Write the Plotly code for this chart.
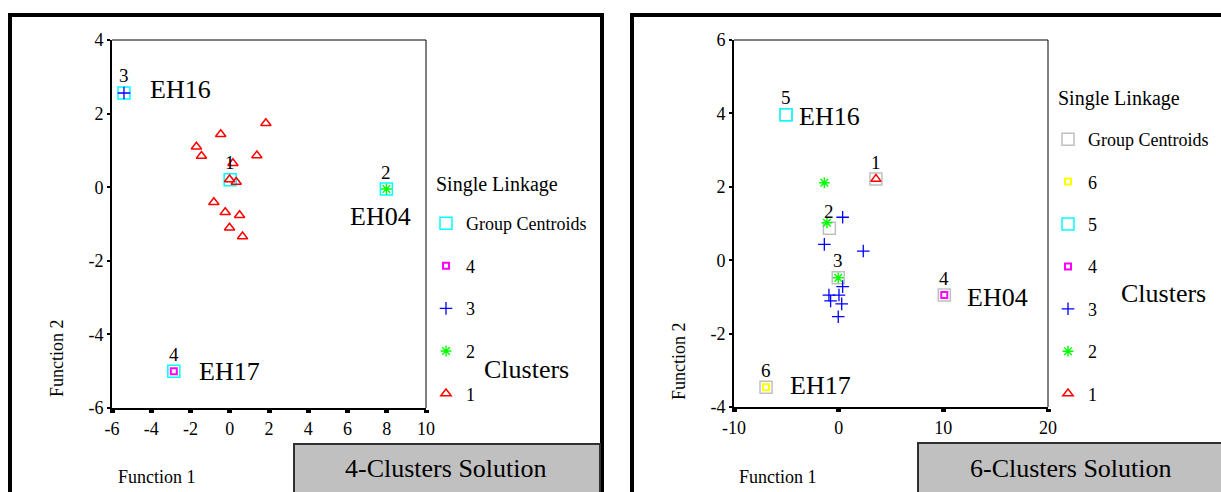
import plotly.graph_objects as go

W, H = 1221, 492

# ---------------- 4-Clusters Solution (left) ----------------
l_c1_x = [1.84, -0.46, -1.70, -1.44, 1.38, 0.16, -0.01, 0.33, -0.81, -0.23, 0.50, -0.01, 0.65]
l_c1_y = [1.74, 1.44, 1.10, 0.85, 0.86, 0.65, 0.21, 0.14, -0.41, -0.68, -0.76, -1.10, -1.34]
l_c2_x = [7.98]
l_c2_y = [-0.05]
l_c3_x = [-5.39]
l_c3_y = [2.56]
l_c4_x = [-2.85]
l_c4_y = [-5.00]
l_cent_x = [0.02, 7.98, -5.39, -2.85]
l_cent_y = [0.20, -0.05, 2.56, -5.00]
l_cent_lbl = ["1", "2", "3", "4"]
l_names = ["EH16", "EH04", "EH17"]
l_name_of = [2, 1, 3]          # centroid index that each name belongs to
l_xticks = [-6, -4, -2, 0, 2, 4, 6, 8, 10]
l_yticks = [-6, -4, -2, 0, 2, 4]

# ---------------- 6-Clusters Solution (right) ----------------
r_c1_x = [3.56]
r_c1_y = [2.21]
r_c2_x = [-1.37, -1.12, -0.04]
r_c2_y = [2.11, 1.02, -0.48]
r_c3_x = [0.38, -1.37, 2.35, 0.38, -0.93, 0.03, -0.77, 0.29, -0.04]
r_c3_y = [1.17, 0.43, 0.25, -0.72, -0.95, -0.95, -1.11, -1.19, -1.54]
r_c4_x = [10.09]
r_c4_y = [-0.95]
r_c5_x = [-5.03]
r_c5_y = [3.96]
r_c6_x = [-6.94]
r_c6_y = [-3.46]
r_cent_x = [3.56, -0.89, -0.04, 10.09, -5.03, -6.94]
r_cent_y = [2.21, 0.87, -0.48, -0.95, 3.96, -3.46]
r_cent_lbl = ["1", "2", "3", "4", "5", "6"]
r_names = ["EH16", "EH04", "EH17"]
r_name_of = [4, 3, 5]
r_xticks = [-10, 0, 10, 20]
r_yticks = [-4, -2, 0, 2, 4, 6]

FONT = "Liberation Serif, Times New Roman, serif"
RED, GREEN, BLUE, MAG, CYAN, YEL, GREY = "#ff0000", "#00ff00", "#0000ff", "#ff00ff", "#00ffff", "#ffff00", "#c0c0c0"


def px(x):
    return x / W


def py(y):
    return 1 - y / H


def tick_text(vals):
    return [str(v) for v in vals]


fig = go.Figure()

STY = {
    "tri": dict(symbol="triangle-up-open", size=9, color=RED, line=dict(color=RED, width=1.5)),
    "ast": dict(symbol="asterisk-open", size=9, color=GREEN, line=dict(color=GREEN, width=1.4)),
    "plus": dict(symbol="cross-thin-open", size=9, color=BLUE, line=dict(color=BLUE, width=1.3)),
    "mag": dict(symbol="square-open", size=6, color=MAG, line=dict(color=MAG, width=2)),
    "yel": dict(symbol="square-open", size=6, color=YEL, line=dict(color=YEL, width=2)),
    "cyan": dict(symbol="square-open", size=12, color=CYAN, line=dict(color=CYAN, width=1.5)),
    "grey": dict(symbol="square-open", size=12, color=GREY, line=dict(color=GREY, width=1.5)),
}


def add(xs, ys, name, sty, xa, ya, leg, grp):
    fig.add_trace(go.Scatter(x=xs, y=ys, mode="markers", name=name, marker=STY[sty],
                             xaxis=xa, yaxis=ya, legend=leg, legendgroup=grp,
                             hoverinfo="skip"))


# left panel (centroids first, drawn underneath)
add(l_cent_x, l_cent_y, "Group Centroids", "cyan", "x", "y", "legend", "Lc")
add(l_c4_x, l_c4_y, "4", "mag", "x", "y", "legend", "L4")
add(l_c3_x, l_c3_y, "3", "plus", "x", "y", "legend", "L3")
add(l_c2_x, l_c2_y, "2", "ast", "x", "y", "legend", "L2")
add(l_c1_x, l_c1_y, "1", "tri", "x", "y", "legend", "L1")

# right panel
add(r_cent_x, r_cent_y, "Group Centroids", "grey", "x2", "y2", "legend2", "Rc")
add(r_c6_x, r_c6_y, "6", "yel", "x2", "y2", "legend2", "R6")
add(r_c5_x, r_c5_y, "5", "cyan", "x2", "y2", "legend2", "R5")
add(r_c4_x, r_c4_y, "4", "mag", "x2", "y2", "legend2", "R4")
add(r_c3_x, r_c3_y, "3", "plus", "x2", "y2", "legend2", "R3")
add(r_c2_x, r_c2_y, "2", "ast", "x2", "y2", "legend2", "R2")
add(r_c1_x, r_c1_y, "1", "tri", "x2", "y2", "legend2", "R1")

ann = []
# centroid number labels
for xs, ys, lbl, xr, yr in [(l_cent_x, l_cent_y, l_cent_lbl, "x", "y"),
                            (r_cent_x, r_cent_y, r_cent_lbl, "x2", "y2")]:
    for x, y, t in zip(xs, ys, lbl):
        ann.append(dict(x=x, y=y, xref=xr, yref=yr, text=t, showarrow=False,
                        yshift=17, font=dict(size=19, family=FONT)))

# station names
l_name_pos = [dict(xshift=24, yshift=3, xanchor="left"),
              dict(xshift=-6, yshift=-27, xanchor="center"),
              dict(xshift=23, yshift=0, xanchor="left")]
for nm, idx, pos in zip(l_names, l_name_of, l_name_pos):
    ann.append(dict(x=l_cent_x[idx], y=l_cent_y[idx], xref="x", yref="y", text=nm,
                    showarrow=False, font=dict(size=26, family=FONT), **pos))
r_name_pos = [dict(xshift=11, yshift=-2, xanchor="left"),
              dict(xshift=21, yshift=-2, xanchor="left"),
              dict(xshift=22, yshift=2, xanchor="left")]
for nm, idx, pos in zip(r_names, r_name_of, r_name_pos):
    ann.append(dict(x=r_cent_x[idx], y=r_cent_y[idx], xref="x2", yref="y2", text=nm,
                    showarrow=False, font=dict(size=26, family=FONT), **pos))


def txt(x, y, t, size, anchor="center", angle=0):
    ann.append(dict(x=px(x), y=py(y), xref="paper", yref="paper", text=t, showarrow=False,
                    xanchor=anchor, yanchor="middle", textangle=angle,
                    font=dict(size=size, family=FONT)))


txt(434, 184, "Single Linkage", 20, "left")
txt(526, 369, "Clusters", 26)
txt(57, 358, "Function 2", 18, angle=-90)
txt(157, 477, "Function 1", 18)
txt(446, 468, "4-Clusters Solution", 26)

txt(1056, 98, "Single Linkage", 20, "left")
txt(1163, 293, "Clusters", 26)
txt(679, 361, "Function 2", 18, angle=-90)
txt(778, 477, "Function 1", 18)
txt(1071, 468, "6-Clusters Solution", 26)

shapes = []
# outer panel borders
shapes.append(dict(type="rect", xref="paper", yref="paper", x0=px(10), x1=px(602), y0=py(15), y1=py(520),
                   line=dict(color="black", width=4), layer="below"))
shapes.append(dict(type="rect", xref="paper", yref="paper", x0=px(632), x1=px(1240), y0=py(15), y1=py(520),
                   line=dict(color="black", width=4), layer="below"))
# grey title boxes
shapes.append(dict(type="rect", xref="paper", yref="paper", x0=px(294), x1=px(600), y0=py(444), y1=py(520),
                   fillcolor="#c0c0c0", line=dict(color="#303030", width=2), layer="below"))
shapes.append(dict(type="rect", xref="paper", yref="paper", x0=px(918), x1=px(1240), y0=py(443), y1=py(520),
                   fillcolor="#c0c0c0", line=dict(color="#303030", width=2), layer="below"))
# thin top / right frame lines of plot areas
for xr, yr in [("x", "y"), ("x2", "y2")]:
    shapes.append(dict(type="line", xref=xr + " domain", yref=yr + " domain", x0=0, x1=1, y0=1, y1=1,
                       line=dict(color="black", width=1)))
    shapes.append(dict(type="line", xref=xr + " domain", yref=yr + " domain", x0=1, x1=1, y0=0, y1=1,
                       line=dict(color="black", width=1)))

axc = dict(showline=True, linecolor="black", linewidth=2, ticks="outside", tickcolor="black",
           showgrid=False, zeroline=False, automargin=False,
           tickfont=dict(size=18, color="black", family=FONT), fixedrange=True)

fig.update_layout(
    template="none",
    width=W, height=H, autosize=False,
    margin=dict(l=0, r=0, t=0, b=0, pad=0, autoexpand=False),
    paper_bgcolor="white", plot_bgcolor="white",
    font=dict(family=FONT, color="black"),
    xaxis=dict(domain=[px(112), px(426)], range=[-6, 10], anchor="y",
               tickvals=l_xticks, ticktext=tick_text(l_xticks), ticklen=3, tickwidth=5, **axc),
    yaxis=dict(domain=[py(408), py(40)], range=[-6, 4], anchor="x",
               tickvals=l_yticks, ticktext=tick_text(l_yticks), ticklen=3, tickwidth=2, **axc),
    xaxis2=dict(domain=[px(734), px(1048)], range=[-10, 20], anchor="y2",
                tickvals=r_xticks, ticktext=tick_text(r_xticks), ticklen=3, tickwidth=5, **axc),
    yaxis2=dict(domain=[py(407), py(40)], range=[-4, 6], anchor="x2",
                tickvals=r_yticks, ticktext=tick_text(r_yticks), ticklen=3, tickwidth=2, **axc),
    legend=dict(x=px(426), y=py(205), xanchor="left", yanchor="top", traceorder="grouped",
                tracegroupgap=16.2, bgcolor="rgba(0,0,0,0)", borderwidth=0,
                font=dict(size=18, family=FONT, color="black"),
                itemclick=False, itemdoubleclick=False),
    legend2=dict(x=px(1048), y=py(121), xanchor="left", yanchor="top", traceorder="grouped",
                 tracegroupgap=16.0, bgcolor="rgba(0,0,0,0)", borderwidth=0,
                 font=dict(size=18, family=FONT, color="black"),
                 itemclick=False, itemdoubleclick=False),
    annotations=ann,
    shapes=shapes,
    showlegend=True,
)

fig.write_html("out.html", config={"displayModeBar": False},
               post_script="document.body.style.margin='0px';document.body.style.overflow='hidden';")
